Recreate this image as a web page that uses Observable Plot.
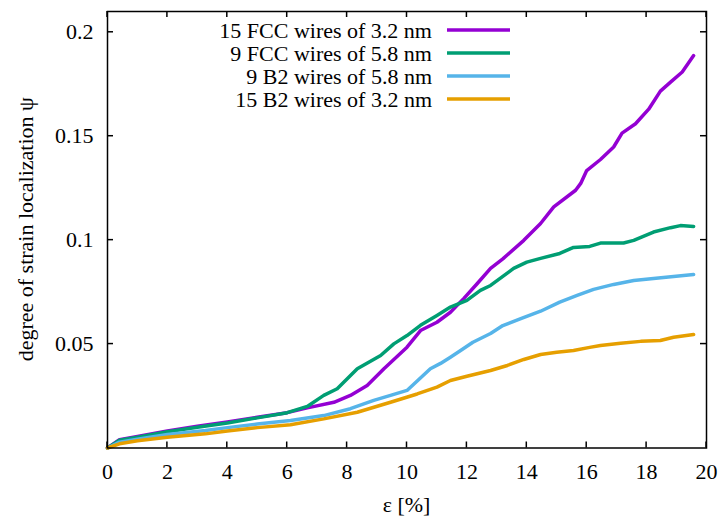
<!DOCTYPE html>
<html><head><meta charset="utf-8">
<script src="https://cdn.jsdelivr.net/npm/d3@7"></script>
<script src="https://cdn.jsdelivr.net/npm/@observablehq/plot@0.6"></script>
<style>body{margin:0;background:#fff} svg{display:block} svg text{font-family:'Liberation Serif', serif !important;}</style>
</head><body><div id="chart"></div><script>
const seriesNames = ["15 FCC wires of 3.2 nm", "9 FCC wires of 5.8 nm", "9 B2 wires of 5.8 nm", "15 B2 wires of 3.2 nm"];
const seriesColors = ["#9400d3", "#009e73", "#56b4e9", "#e69f00"];

const fcc15 = [[0,0],[0.4,0.004],[1,0.0055],[2,0.0082],[3,0.0105],[4,0.0125],[5,0.0148],[6,0.017],[6.67,0.0193],[7.56,0.022],[8.11,0.0253],[8.67,0.0301],[9.23,0.0381],[10,0.0485],[10.45,0.0565],[11,0.0605],[11.45,0.0653],[11.9,0.072],[12.34,0.079],[12.79,0.0864],[13.2,0.091],[13.9,0.0999],[14.46,0.108],[14.9,0.116],[15.63,0.124],[15.8,0.1273],[16.0,0.1335],[16.46,0.1388],[16.9,0.1448],[17.18,0.1515],[17.63,0.156],[18.07,0.163],[18.46,0.1717],[18.8,0.176],[19.19,0.1809],[19.57,0.1888]];
const fcc9 = [[0,0],[0.4,0.0037],[1,0.0052],[2,0.0078],[3,0.01],[4,0.012],[5,0.0145],[6,0.017],[6.67,0.02],[7.22,0.0253],[7.67,0.0285],[8.34,0.0381],[9.12,0.0445],[9.56,0.0501],[10,0.0541],[10.45,0.059],[11,0.0638],[11.45,0.0678],[12,0.071],[12.45,0.0758],[12.79,0.0782],[13.56,0.0864],[14,0.0894],[14.46,0.0912],[15.1,0.0936],[15.56,0.0965],[16.1,0.097],[16.46,0.0986],[17.23,0.0986],[17.57,0.0999],[18.23,0.1039],[18.8,0.106],[19.13,0.107],[19.57,0.1066]];
const b2_9 = [[0,0],[0.4,0.0028],[1,0.0042],[2,0.0065],[3.27,0.0084],[4,0.0098],[5,0.0115],[6.11,0.0132],[7.22,0.0156],[8.11,0.0189],[8.89,0.0229],[9.45,0.0253],[10,0.0277],[10.78,0.0381],[11.12,0.0407],[11.45,0.0437],[11.79,0.0469],[12.2,0.0509],[12.79,0.0551],[13.2,0.0589],[13.8,0.0623],[14.46,0.0658],[15.1,0.0702],[15.68,0.0734],[16.23,0.0763],[16.9,0.0787],[17.57,0.0806],[18.23,0.0815],[18.9,0.0825],[19.57,0.0835]];
const b2_15 = [[0,0],[0.4,0.002],[1,0.0035],[2,0.0052],[3.27,0.0068],[4,0.0082],[5,0.0098],[6.11,0.0112],[7.22,0.014],[8.34,0.0172],[9.45,0.022],[10.34,0.026],[11,0.0293],[11.45,0.0325],[12.0,0.0345],[12.79,0.0373],[13.35,0.0397],[13.9,0.0426],[14.46,0.045],[15.0,0.0461],[15.56,0.0469],[16.1,0.0484],[16.46,0.0493],[17.13,0.0504],[17.8,0.0513],[18.46,0.0517],[18.9,0.0533],[19.57,0.0546]];

const xTicks = [0,2,4,6,8,10,12,14,16,18,20];
const yTicks = [0.05,0.1,0.15,0.2];
const xLabel = "ε [%]";
const yLabel = "degree of strain localization ψ";

(function () {
const allSeries = [fcc15, fcc9, b2_9, b2_15];
const rows = [];
allSeries.forEach((s, i) => s.forEach(([x, y]) => rows.push({x, y, series: seriesNames[i]})));

const W = 723, H = 518, mL = 107, mR = 17, mT = 11, mB = 70.5, tickLen = 6;
const serif = "'Liberation Serif', serif";
const fmt = d => String(d);

const plot = Plot.plot({
  width: W, height: H,
  marginLeft: mL, marginRight: mR, marginTop: mT, marginBottom: mB,
  style: {fontFamily: serif, fontSize: "22px", background: "#fff", color: "#000"},
  x: {domain: [0, 20], axis: null},
  y: {domain: [0, 0.21], axis: null},
  color: {domain: seriesNames, range: seriesColors},
  marks: [
    Plot.text(xTicks, {x: d => d, text: fmt, frameAnchor: "bottom", dy: 24, lineAnchor: "middle", fontSize: 22, fontFamily: serif}),
    Plot.text(yTicks, {y: d => d, text: fmt, frameAnchor: "left", dx: -14, textAnchor: "end", lineAnchor: "middle", fontSize: 22, fontFamily: serif}),
    Plot.line(rows, {x: "x", y: "y", z: "series", stroke: "series", strokeWidth: 3.5, strokeLinejoin: "round"}),
    Plot.frame({stroke: "#000", strokeWidth: 1.5})
  ]
});

const sx = plot.scale("x"), sy = plot.scale("y");
const svg = d3.select(plot);
const fTop = mT, fBottom = H - mB, fLeft = mL, fRight = W - mR;
const tg = svg.append("g").attr("stroke", "#000").attr("stroke-width", 1.5);
xTicks.forEach(v => {
  const px = sx.apply(v);
  tg.append("line").attr("x1", px).attr("x2", px).attr("y1", fBottom).attr("y2", fBottom - tickLen);
  tg.append("line").attr("x1", px).attr("x2", px).attr("y1", fTop).attr("y2", fTop + tickLen);
});
yTicks.forEach(v => {
  const py = sy.apply(v);
  tg.append("line").attr("x1", fLeft).attr("x2", fLeft + tickLen).attr("y1", py).attr("y2", py);
  tg.append("line").attr("x1", fRight).attr("x2", fRight - tickLen).attr("y1", py).attr("y2", py);
});

svg.append("text").attr("x", (fLeft + fRight) / 2).attr("y", 512).attr("text-anchor", "middle")
  .attr("font-family", serif).attr("font-size", 22).attr("fill", "#000").text(xLabel);
svg.append("text").attr("transform", `translate(33,${(fTop + fBottom) / 2}) rotate(-90)`).attr("text-anchor", "middle")
  .attr("font-family", serif).attr("font-size", 22).attr("fill", "#000").text(yLabel);

const legendY = [30, 53, 76, 99];
const lg = svg.append("g");
seriesNames.forEach((name, i) => {
  lg.append("text").attr("x", 432).attr("y", legendY[i]).attr("dy", "0.35em").attr("text-anchor", "end")
    .attr("font-family", serif).attr("font-size", 22).attr("fill", "#000").text(name);
  lg.append("line").attr("x1", 447).attr("x2", 510).attr("y1", legendY[i]).attr("y2", legendY[i])
    .attr("stroke", seriesColors[i]).attr("stroke-width", 3.5);
});

document.getElementById("chart").appendChild(plot);
})();
</script></body></html>
